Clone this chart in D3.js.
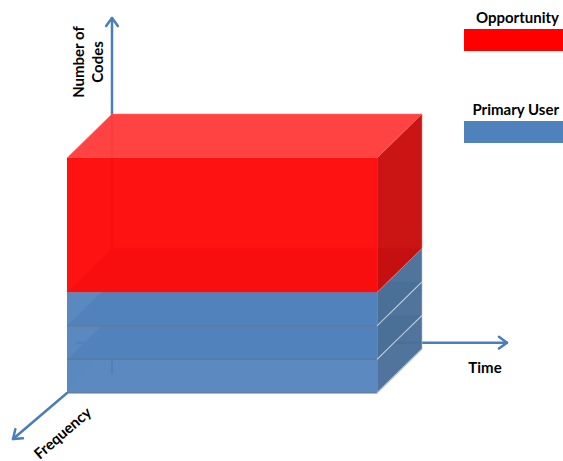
<!DOCTYPE html>
<html>
<head>
<meta charset="utf-8">
<script src="https://cdn.jsdelivr.net/npm/d3@7"></script>
<style>
  html, body { margin: 0; padding: 0; background: #fff; }
  svg { display: block; }
  text { font-family: Lato, "Open Sans", sans-serif; font-weight: bold; fill: #000; }
</style>
</head>
<body>
<svg id="chart" width="563" height="461"></svg>
<script>
// Stacked layers, bottom to top: three primary-user bands, then the opportunity block
const layers = ["Primary User", "Primary User", "Primary User", "Opportunity"];
const codeCounts = [1, 1, 1, 4];
const legendLabels = ["Opportunity", "Primary User"];
const axisLabels = ["Number of", "Codes", "Time", "Frequency"];

const palette = {
  "Opportunity":  { front: "#ff0a0a", top: "#ff3c3c", side: "#c90c0c", legend: "#ff0000",
                    edge: "#ff7070", seam: "#ff7070" },
  "Primary User": { front: "#5283bd", top: "#4e72a0", side: "#4a6f98", legend: "#4f81bd",
                    edge: "#6a7788", seam: "#b4c4d8" }
};

const svg = d3.select("#chart");

// Cumulative stack extents
let acc = 0;
const blocks = layers.map((name, i) => {
  const b = { name, c0: acc, c1: acc + codeCounts[i] };
  acc += codeCounts[i];
  return b;
});

// Oblique projection: time -> x, codes -> y, frequency depth -> diagonal offset
const xTime = d3.scaleLinear().domain([0, 1]).range([67, 377]);
const yCodes = d3.scaleLinear().domain([0, d3.sum(codeCounts)]).range([393, 158]);
const depthX = d3.scaleLinear().domain([0, 1]).range([0, 45]);
const depthY = d3.scaleLinear().domain([0, 1]).range([0, -44]);
const P = (t, c, z) => [xTime(t) + depthX(z), yCodes(c) + depthY(z)];
const line = d3.line();

// Axis arrows
const axisColor = "#4a7ebb";
const axes = svg.append("g").attr("fill", "none").attr("stroke", axisColor)
  .attr("stroke-width", 2.5).attr("stroke-linecap", "round").attr("stroke-linejoin", "round");

function arrow(from, to) {
  axes.append("path").attr("d", line([from, to]));
  const ang = Math.atan2(to[1] - from[1], to[0] - from[0]);
  const L = 10, spread = Math.PI / 5;
  const a = [to[0] - L * Math.cos(ang - spread), to[1] - L * Math.sin(ang - spread)];
  const b = [to[0] - L * Math.cos(ang + spread), to[1] - L * Math.sin(ang + spread)];
  axes.append("path").attr("d", line([a, to, b]));
}

const origin = [P(0, 0, 1)[0], yCodes(1.5)];
arrow([origin[0], 373], [origin[0], 18]);         // number of codes
arrow([77, origin[1]], [507, origin[1]]);          // time
arrow(P(0, 0, 0), [13, 439]);                       // frequency

// Boxes, drawn bottom to top so each layer sits over the one beneath
const boxes = svg.append("g");
blocks.forEach(b => {
  const col = palette[b.name];
  const isBlue = b.name === "Primary User";
  const g = boxes.append("g");
  const faces = [
    // hidden faces, faintly visible through the translucent walls
    { pts: [P(0, b.c0, 1), P(1, b.c0, 1), P(1, b.c1, 1), P(0, b.c1, 1)], fill: col.side, op: 0.1, stroke: false },
    { pts: [P(0, b.c0, 0), P(0, b.c0, 1), P(0, b.c1, 1), P(0, b.c1, 0)], fill: col.side, op: 0.1, stroke: false },
    // visible faces
    { pts: [P(0, b.c1, 0), P(1, b.c1, 0), P(1, b.c1, 1), P(0, b.c1, 1)], fill: col.top, op: 0.97, stroke: true },
    { pts: [P(1, b.c0, 0), P(1, b.c0, 1), P(1, b.c1, 1), P(1, b.c1, 0)], fill: col.side, op: 0.97, stroke: true },
    { pts: [P(0, b.c0, 0), P(1, b.c0, 0), P(1, b.c1, 0), P(0, b.c1, 0)], fill: col.front, op: isBlue ? 0.95 : 0.97, stroke: false }
  ];
  faces.forEach(f => {
    g.append("path").attr("d", line(f.pts) + "Z")
      .attr("fill", f.fill).attr("fill-opacity", f.op)
      .attr("stroke", f.stroke ? col.seam : "none")
      .attr("stroke-width", 0.8).attr("stroke-opacity", 0.7);
  });
  // seam along the bottom of the front face
  if (isBlue) {
    g.append("path").attr("d", line([P(0, b.c0, 0), P(1, b.c0, 0)]))
      .attr("stroke", col.edge).attr("stroke-width", 1.2).attr("fill", "none");
    g.append("path").attr("d", line([P(1, b.c0, 0), P(1, b.c0, 1)]))
      .attr("stroke", col.seam).attr("stroke-width", 1.2).attr("fill", "none");
  }
});

// Axis titles
svg.append("text").attr("transform", "translate(84,62) rotate(-90)")
  .attr("text-anchor", "middle").attr("font-size", 15).text(axisLabels[0]);
svg.append("text").attr("transform", "translate(103,62) rotate(-90)")
  .attr("text-anchor", "middle").attr("font-size", 15).text(axisLabels[1]);
svg.append("text").attr("x", 485).attr("y", 373)
  .attr("text-anchor", "middle").attr("font-size", 15).text(axisLabels[2]);
svg.append("text").attr("transform", "translate(66,437) rotate(-41)")
  .attr("text-anchor", "middle").attr("font-size", 15).text(axisLabels[3]);

// Legend
const legend = svg.append("g");
legendLabels.forEach((name, i) => {
  const y0 = i * 92;
  legend.append("text").attr("x", 559).attr("y", 23 + y0)
    .attr("text-anchor", "end").attr("font-size", 15).text(name);
  legend.append("rect").attr("x", 464).attr("y", 29 + y0)
    .attr("width", 99).attr("height", 22).attr("fill", palette[name].legend);
});
</script>
</body>
</html>
